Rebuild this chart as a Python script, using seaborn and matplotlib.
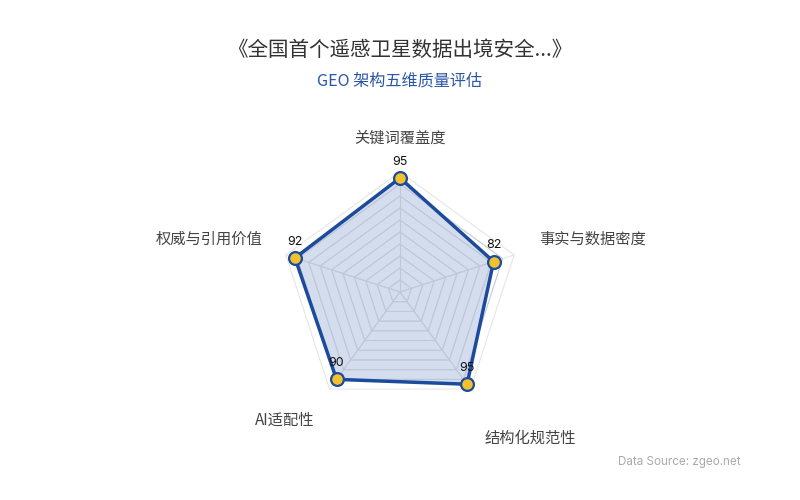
import numpy as np
import pandas as pd
import matplotlib
matplotlib.use("Agg")
import matplotlib.pyplot as plt
import seaborn as sns

categories = ["关键词覆盖度", "事实与数据密度", "结构化规范性", "AI适配性", "权威与引用价值"]
values = [95, 82, 95, 90, 92]
max_value = 100
levels = list(range(10, 101, 10))
title = "《全国首个遥感卫星数据出境安全...》"
subtitle = "GEO 架构五维质量评估"
source = "Data Source: zgeo.net"

sns.set_theme(style="white")
plt.rcParams['font.family'] = ['Noto Sans CJK SC', 'DejaVu Sans']

W, H = 800, 500
fig = plt.figure(figsize=(8, 5), dpi=100)
ax = fig.add_axes([0, 0, 1, 1])
scale = 1.2  # px per unit
cx, cy = 400, 292
ax.set_xlim(-cx / scale, (W - cx) / scale)
ax.set_ylim(-(H - cy) / scale, cy / scale)
ax.axis("off")

n = len(categories)
angles = np.pi / 2 - np.arange(n) * 2 * np.pi / n
ux, uy = np.cos(angles), np.sin(angles)

# grid polygons
for lv in levels:
    xs = np.append(ux * lv, ux[0] * lv)
    ys = np.append(uy * lv, uy[0] * lv)
    ax.plot(xs, ys, color="#e6e6e6", lw=0.8, zorder=1)
for i in range(n):
    ax.plot([0, ux[i] * max_value], [0, uy[i] * max_value], color="#e6e6e6", lw=0.8, zorder=1)

vals = np.array(values, dtype=float)
df = pd.DataFrame({"x": ux * vals, "y": uy * vals, "cat": categories})
px = np.append(df["x"].values, df["x"].values[0])
py = np.append(df["y"].values, df["y"].values[0])
ax.fill(px, py, color="#2a55a8", alpha=0.2, lw=0, zorder=2)
for lv in levels[:-1]:
    xs = np.append(ux * lv, ux[0] * lv)
    ys = np.append(uy * lv, uy[0] * lv)
    ax.plot(xs, ys, color="#bfc8d9", lw=0.6, zorder=2.5)
for i in range(n):
    ax.plot([0, ux[i] * vals[i]], [0, uy[i] * vals[i]], color="#bfc8d9", lw=0.6, zorder=2.5)
ax.plot(px, py, color="#1c4b9e", lw=2.5, zorder=3)
sns.scatterplot(data=df, x="x", y="y", ax=ax, s=85, color="#f2c12e",
                edgecolor="#1c4b9e", linewidth=1.6, zorder=4, legend=False)

# value labels
for i, v in enumerate(values):
    ax.text(ux[i] * v, uy[i] * v + 8.5, str(v), ha="center", va="bottom",
            fontsize=9, color="#111111", zorder=5, family=["Inter", "DejaVu Sans"])

# axis name labels (pixel positions)
label_pos = [(400, 138, "center"), (539, 239, "left"), (530, 438, "center"),
             (285, 420, "center"), (263, 239, "right")]
for (x, y, ha), c in zip(label_pos, categories):
    fig.text(x / W, 1 - y / H, c, ha=ha, va="center", fontsize=11, color="#444444")

fig.text(0.5, 1 - 50 / H, title, ha="center", va="center", fontsize=14.8, color="#333333")
fig.text(0.5, 1 - 81 / H, subtitle, ha="center", va="center", fontsize=11.6, color="#2a56a6")
fig.text(741 / W, 1 - 462 / H, source, ha="right", va="center", fontsize=8.4, color="#aaaaaa",
         family=["Inter", "DejaVu Sans"])

fig.savefig("out.png", dpi=100, facecolor="white")
